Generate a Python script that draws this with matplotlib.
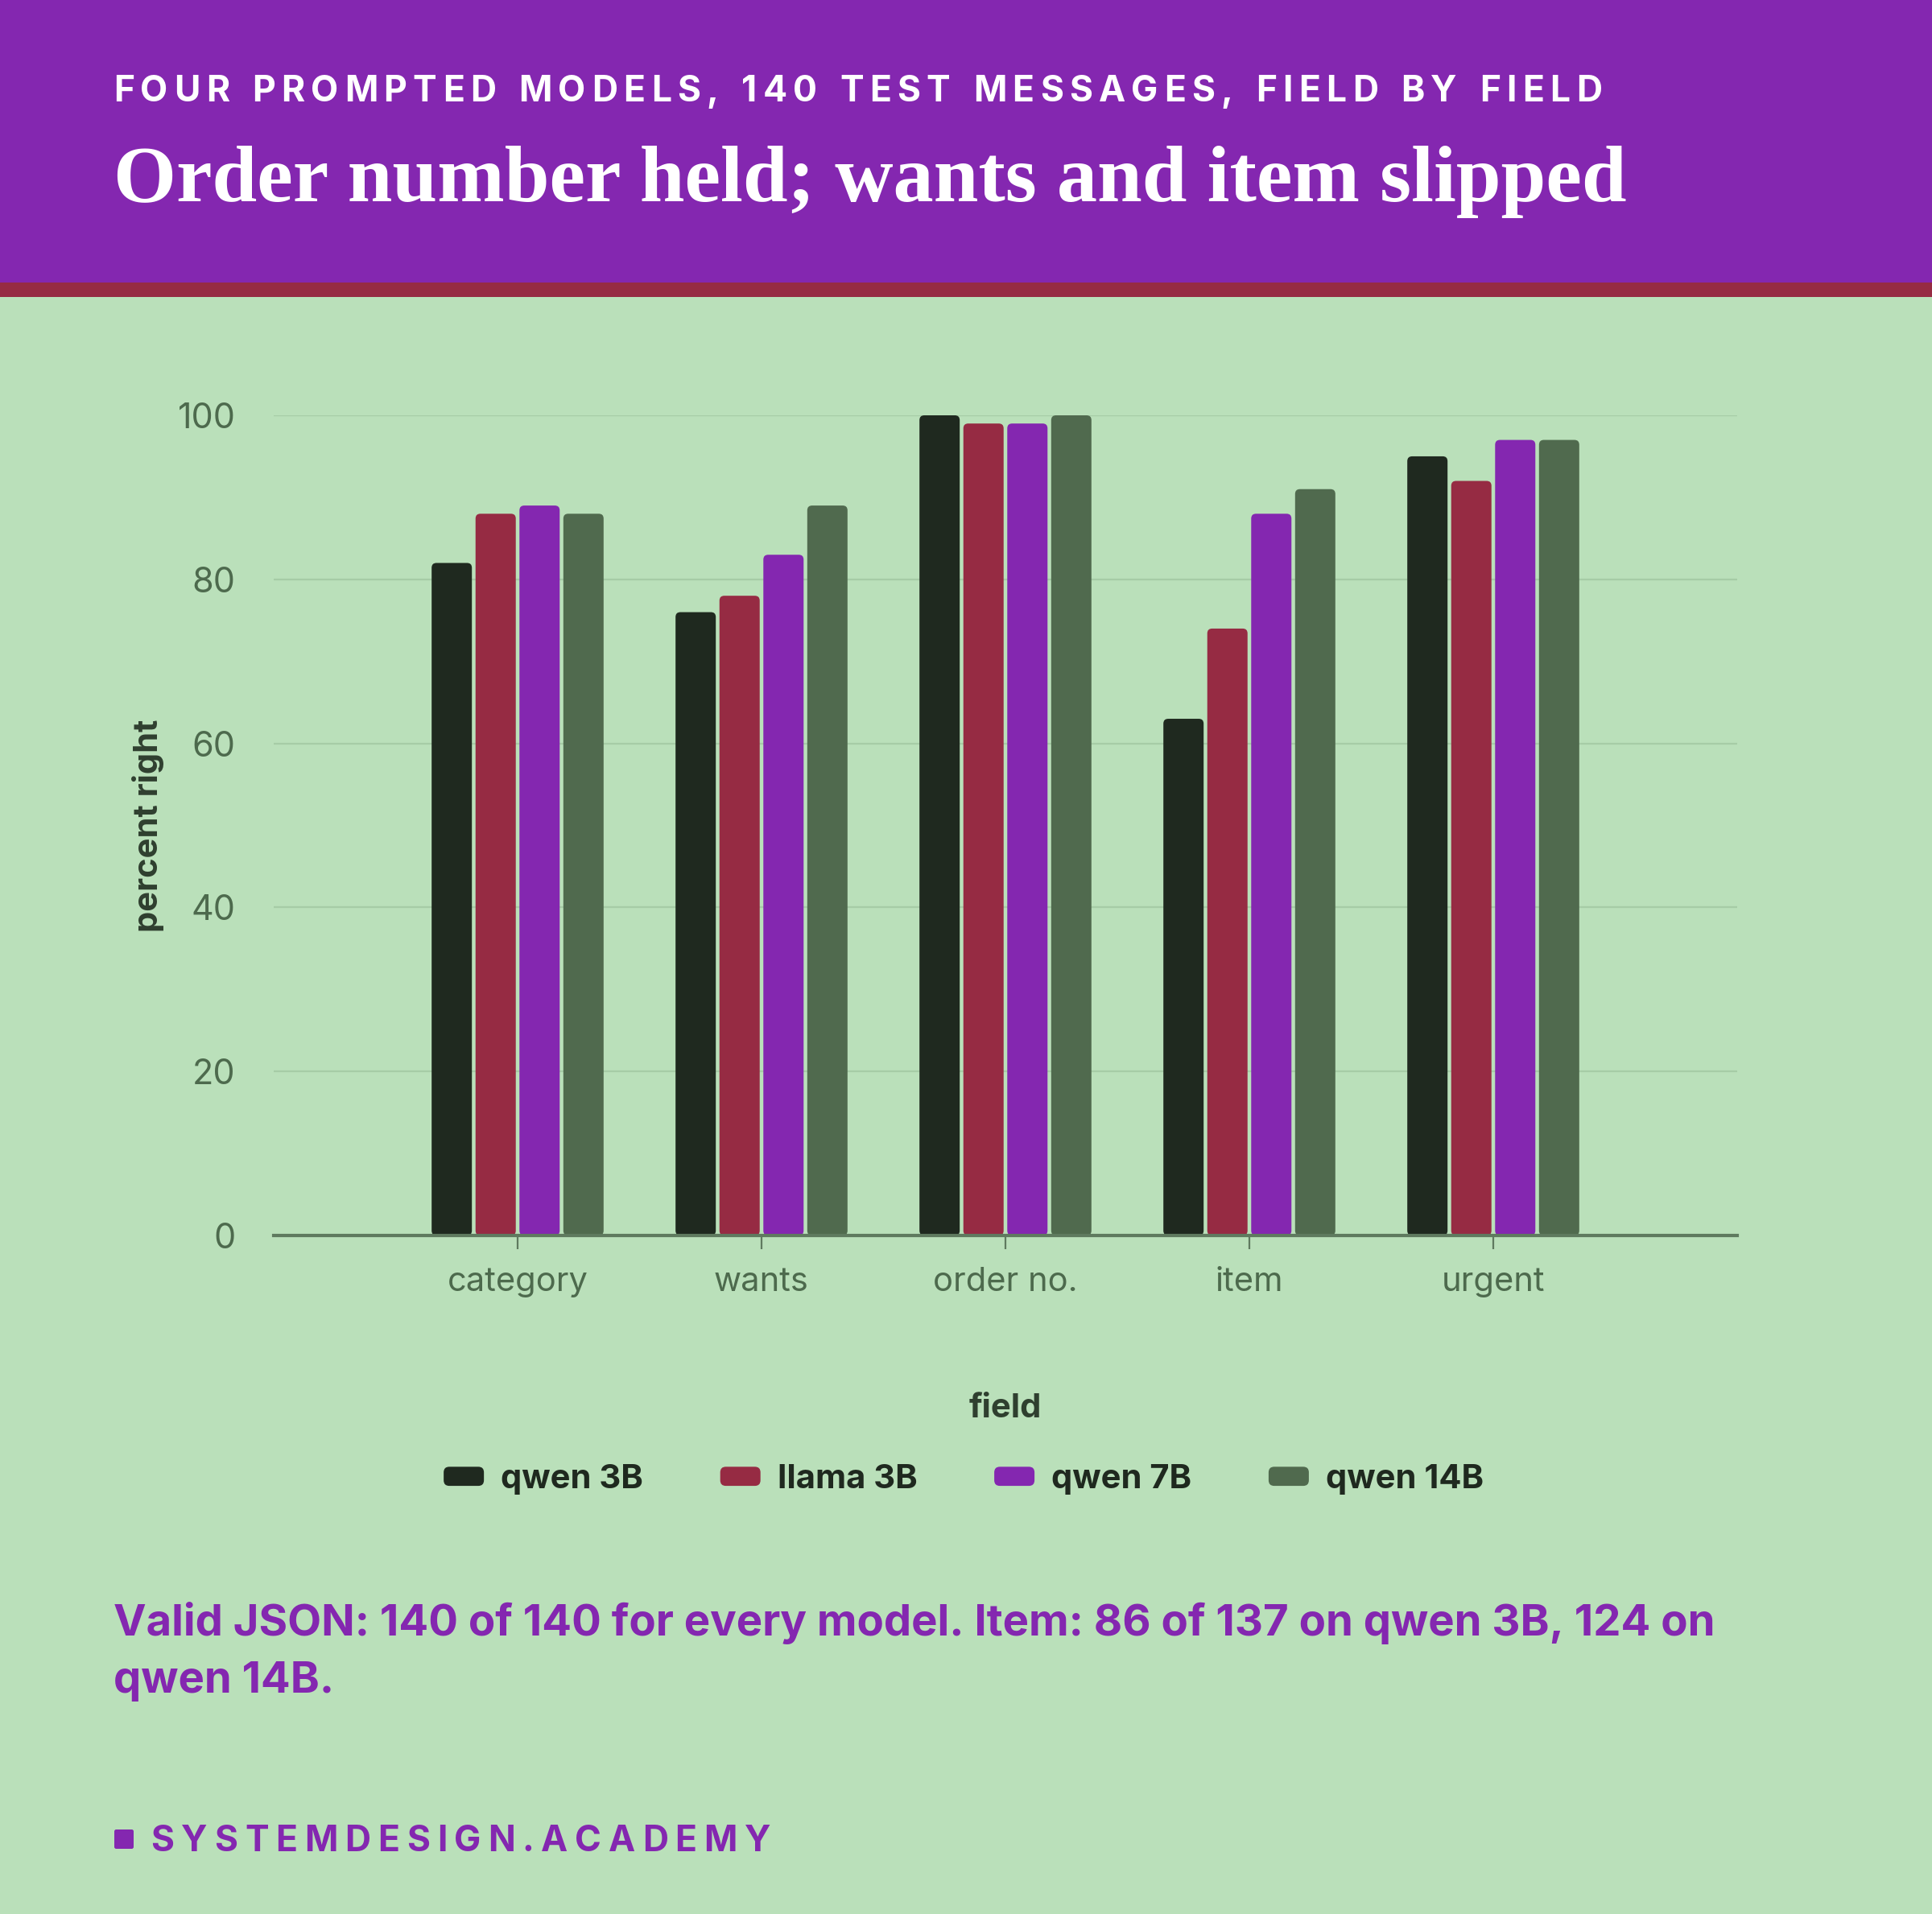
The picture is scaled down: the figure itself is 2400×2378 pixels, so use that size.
import numpy as np
import matplotlib
matplotlib.use("Agg")
import matplotlib.pyplot as plt
from matplotlib.patches import FancyBboxPatch, Patch, Rectangle
from matplotlib.legend_handler import HandlerPatch

# data
fields = ["category", "wants", "order no.", "item", "urgent"]
models = ["qwen 3B", "llama 3B", "qwen 7B", "qwen 14B"]
qwen_3b = [82, 76, 100, 63, 95]
llama_3b = [88, 78, 99, 74, 92]
qwen_7b = [89, 83, 99, 88, 97]
qwen_14b = [88, 89, 100, 91, 97]
series = [qwen_3b, llama_3b, qwen_7b, qwen_14b]

colors = ["#1f291f", "#962b43", "#8427b0", "#506a4e"]
BG = "#bae0ba"
PURPLE = "#8427b0"
W, H = 2400, 2378

plt.rcParams['font.family'] = ['Inter', 'DejaVu Sans']

fig = plt.figure(figsize=(W / 200, H / 200), dpi=200, facecolor=BG)
renderer = fig.canvas.get_renderer()

# header band + stripe
fig.add_artist(Rectangle((0, 1 - 351 / H), 1, 351 / H, transform=fig.transFigure,
                         facecolor=PURPLE, edgecolor='none', zorder=0))
fig.add_artist(Rectangle((0, 1 - 369 / H), 1, 18 / H, transform=fig.transFigure,
                         facecolor="#962b43", edgecolor='none', zorder=0))


def tracked(x0, x1, y_base, s, **kw):
    # place characters one by one, spread so the line runs from x0 to x1 (pixels)
    arts, widths = [], []
    for ch in s:
        t = fig.text(0, 1 - y_base / H, ch, va='baseline', ha='left', **kw)
        w = t.get_window_extent(renderer).width if ch != ' ' else 0.3 * kw['fontsize'] * 200 / 72
        arts.append(t)
        widths.append(w)
    track = (x1 - x0 - sum(widths)) / (len(s) - 1)
    x = x0
    for t, w in zip(arts, widths):
        t.set_x(x / W)
        x += w + track


def fitted(x0, x1, y_base, s, **kw):
    # text whose font size is scaled so it spans x0..x1 pixels
    t = fig.text(x0 / W, 1 - y_base / H, s, va='baseline', ha='left', **kw)
    w = t.get_window_extent(renderer).width
    t.set_fontsize(kw['fontsize'] * (x1 - x0) / w)
    return t


tracked(141, 1990, 126, "FOUR PROMPTED MODELS, 140 TEST MESSAGES, FIELD BY FIELD",
        fontsize=16, fontweight='bold', color='white')

fitted(141, 2020, 250, "Order number held; wants and item slipped",
       fontsize=36, fontweight='bold', color='white', family='Liberation Serif')

# axes
ax = fig.add_axes([340 / W, 1 - 1535 / H, 1818 / W, 1019 / H])
ax.set_facecolor(BG)
ax.set_xlim(-1, 5)
ax.set_ylim(0, 100)

x = np.arange(len(fields))
step = 0.18
bw = 0.165
ax_w_px, ax_h_px = 1818, 1019
r_px = 6
rx = r_px / (ax_w_px / 6)
ry = r_px / (ax_h_px / 100)
for i, (vals, c, name) in enumerate(zip(series, colors, models)):
    xs = x + (i - 1.5) * step
    bars = ax.bar(xs, vals, width=bw, color=c, label=name)
    for b in bars:
        b.set_visible(False)
        ax.add_patch(FancyBboxPatch((b.get_x(), 0), b.get_width(), b.get_height(),
                                    boxstyle=f"round,pad=0,rounding_size={rx}",
                                    mutation_aspect=ry / rx, facecolor=c,
                                    edgecolor='none', zorder=3))

ax.set_yticks([0, 20, 40, 60, 80, 100])
ax.grid(axis='y', color="#a6cca6", linewidth=0.8, zorder=0)
ax.set_axisbelow(True)
for s in ['top', 'right', 'left']:
    ax.spines[s].set_visible(False)
ax.spines['bottom'].set_color("#5f7a5f")
ax.spines['bottom'].set_linewidth(1.5)
ax.spines['bottom'].set_zorder(4)
ax.set_xticks(x)
ax.set_xticklabels(fields)
ax.tick_params(axis='y', length=0, pad=17, labelsize=15.5, labelcolor="#4d6a4d")
ax.tick_params(axis='x', length=6, width=0.8, color="#5f7a5f", pad=8,
               labelsize=15, labelcolor="#4d6a4d")

ax.set_ylabel("percent right", fontsize=15, fontweight='bold', color="#2f3f2f")
ax.yaxis.set_label_coords(-0.075, 0.5)
ax.set_xlabel("field", fontsize=15, fontweight='bold', color="#2f3f2f")
ax.xaxis.set_label_coords(0.5, -0.192)


class RoundHandler(HandlerPatch):
    def create_artists(self, legend, orig_handle, xdescent, ydescent, width, height, fontsize, trans):
        p = FancyBboxPatch((-xdescent, -ydescent), width, height,
                           boxstyle="round,pad=0,rounding_size=2.5",
                           facecolor=orig_handle.get_facecolor(), edgecolor='none',
                           transform=trans)
        return [p]


handles = [Patch(facecolor=c) for c in colors]
leg = fig.legend(handles, models, loc='center', bbox_to_anchor=(1197 / W, 1 - 1838 / H),
                 ncol=4, frameon=False, handlelength=1.2, handleheight=0.5,
                 handletextpad=0.5, columnspacing=2.3,
                 prop={'size': 15, 'weight': 'bold'},
                 handler_map={Patch: RoundHandler()})
for t in leg.get_texts():
    t.set_color("#1f291f")

# note
fitted(141, 2132, 2032,
       "Valid JSON: 140 of 140 for every model. Item: 86 of 137 on qwen 3B, 124 on",
       fontsize=20, fontweight='bold', color=PURPLE)
fig.text(141 / W, 1 - 2103 / H, "qwen 14B.",
         fontsize=19.6, fontweight='bold', color=PURPLE, va='baseline', ha='left')

# footer
fig.add_artist(FancyBboxPatch((142 / W, 1 - 2297 / H), 24 / W, 24 / H,
                              boxstyle="round,pad=0,rounding_size=0.001",
                              transform=fig.transFigure, facecolor=PURPLE, edgecolor='none'))
tracked(187, 957, 2300, "SYSTEMDESIGN.ACADEMY", fontsize=16, fontweight='bold', color=PURPLE)

fig.savefig("out.png", dpi=200, facecolor=BG)
